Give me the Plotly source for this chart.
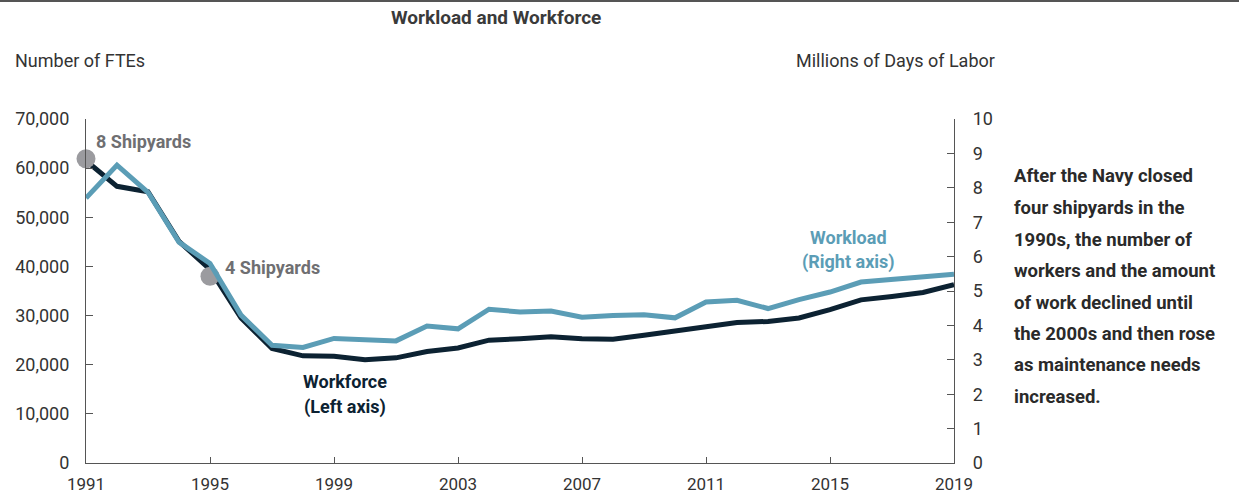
import plotly.graph_objects as go

years = list(range(1991, 2020))
workforce = [61500, 56300, 55200, 45100, 39400, 29500, 23300, 21800, 21700, 21000,
             21400, 22700, 23400, 25000, 25300, 25700, 25300, 25200, 26000, 26900,
             27900, 28600, 28800, 29500, 31200, 33200, 33900, 34700, 36300]
workload = [7.70, 8.66, 7.87, 6.42, 5.80, 4.30, 3.42, 3.36, 3.62, 3.60,
            3.55, 3.98, 3.90, 4.47, 4.39, 4.42, 4.24, 4.29, 4.31, 4.22,
            4.68, 4.73, 4.49, 4.75, 4.97, 5.26, 5.34, 5.43, 5.49]
marker_years = [1991, 1995]
marker_values = [61900, 38000]
marker_labels = ["8 Shipyards", "4 Shipyards"]
left_ticks = [0, 10000, 20000, 30000, 40000, 50000, 60000, 70000]
right_ticks = list(range(0, 11))
x_ticks = [1991, 1995, 1999, 2003, 2007, 2011, 2015, 2019]
note_lines = ["After the Navy closed", "four shipyards in the", "1990s, the number of",
              "workers and the amount", "of work declined until", "the 2000s and then rose",
              "as maintenance needs", "increased."]

DARK = "#0c2232"
LIGHT = "#5b9db6"
GRAY = "#9b9b9f"
TXT = "#333333"
FONT = "Roboto, Liberation Sans, sans-serif"

W, H = 1239, 497
L, R, T, B = 86, 285, 119, 34
PW, PH = W - L - R, H - T - B


def px(x):
    return (x - L) / PW


def py(y):
    return (H - B - y) / PH


fig = go.Figure()
fig.add_trace(go.Scatter(x=years, y=workforce, mode="lines", line=dict(color=DARK, width=5),
                         yaxis="y", cliponaxis=False, showlegend=False))
fig.add_trace(go.Scatter(x=years, y=workload, mode="lines", line=dict(color=LIGHT, width=5),
                         yaxis="y2", cliponaxis=False, showlegend=False))
fig.add_trace(go.Scatter(x=marker_years, y=marker_values, mode="markers",
                         marker=dict(color=GRAY, size=19), yaxis="y", cliponaxis=False,
                         showlegend=False))

fig.update_layout(
    width=W, height=H,
    margin=dict(l=L, r=R, t=T, b=B, autoexpand=False),
    paper_bgcolor="white", plot_bgcolor="white",
    font=dict(family=FONT, size=18, color=TXT),
    xaxis=dict(range=[1991, 2019], tickvals=x_ticks, ticks="inside", ticklen=6,
               tickcolor="#555", showline=True, linecolor="#555", linewidth=1.2,
               showgrid=False, zeroline=False, ticklabelstandoff=5, automargin=False,
               tickfont=dict(size=17, color=TXT)),
    yaxis=dict(range=[0, 70000], tickvals=left_ticks, tickformat=",", ticks="inside",
               ticklen=7, tickcolor="#555", showline=True, linecolor="#555", linewidth=1.2,
               showgrid=False, zeroline=False, ticklabelstandoff=12, automargin=False,
               tickfont=dict(size=18, color=TXT)),
    yaxis2=dict(range=[0, 10], tickvals=right_ticks, overlaying="y", side="right",
                ticks="inside", ticklen=7, tickcolor="#555", showline=True, linecolor="#555",
                linewidth=1.2, showgrid=False, zeroline=False, ticklabelstandoff=14,
                automargin=False, tickfont=dict(size=18, color=TXT)),
)

ann = []
ann.append(dict(xref="paper", yref="paper", x=px(496), y=py(18), text="<b>Workload and Workforce</b>",
                showarrow=False, xanchor="center", yanchor="middle",
                font=dict(size=19, color="#3a3a3a")))
ann.append(dict(xref="paper", yref="paper", x=px(13), y=py(61), text="Number of FTEs",
                showarrow=False, xanchor="left", yanchor="middle", font=dict(size=18, color=TXT)))
ann.append(dict(xref="paper", yref="paper", x=px(997), y=py(61), text="Millions of Days of Labor",
                showarrow=False, xanchor="right", yanchor="middle", font=dict(size=18, color=TXT)))
# marker labels
ann.append(dict(x=1991, y=marker_values[0], xref="x", yref="y", text="<b>" + marker_labels[0] + "</b>",
                showarrow=False, xanchor="left", yanchor="middle", xshift=8, yshift=17,
                font=dict(size=18, color="#6f6f72")))
ann.append(dict(x=1995, y=marker_values[1], xref="x", yref="y", text="<b>" + marker_labels[1] + "</b>",
                showarrow=False, xanchor="left", yanchor="middle", xshift=13, yshift=9,
                font=dict(size=18, color="#6f6f72")))
ann.append(dict(x=1999.35, y=16500, xref="x", yref="y", text="<b>Workforce</b>",
                showarrow=False, xanchor="center", yanchor="middle",
                font=dict(size=18, color=DARK)))
ann.append(dict(x=1999.35, y=11300, xref="x", yref="y", text="<b>(Left axis)</b>",
                showarrow=False, xanchor="center", yanchor="middle",
                font=dict(size=18, color=DARK)))
ann.append(dict(x=2015.6, y=6.55, xref="x", yref="y2", text="<b>Workload</b>",
                showarrow=False, xanchor="center", yanchor="middle",
                font=dict(size=18, color=LIGHT)))
ann.append(dict(x=2015.6, y=5.83, xref="x", yref="y2", text="<b>(Right axis)</b>",
                showarrow=False, xanchor="center", yanchor="middle",
                font=dict(size=18, color=LIGHT)))
line_y = [176, 208, 240, 271, 303, 334, 365, 397]
for txt, yy in zip(note_lines, line_y):
    ann.append(dict(xref="paper", yref="paper", x=px(1012), y=py(yy), text="<b>" + txt + "</b>",
                    showarrow=False, xanchor="left", yanchor="middle", align="left",
                    font=dict(size=18.5, color="#2a2a2a")))
fig.update_layout(annotations=ann)
fig.add_shape(type="line", xref="paper", yref="paper", x0=px(0), x1=px(W), y0=py(1), y1=py(1),
              line=dict(color="#555", width=2))

fig.write_html("out.html")
